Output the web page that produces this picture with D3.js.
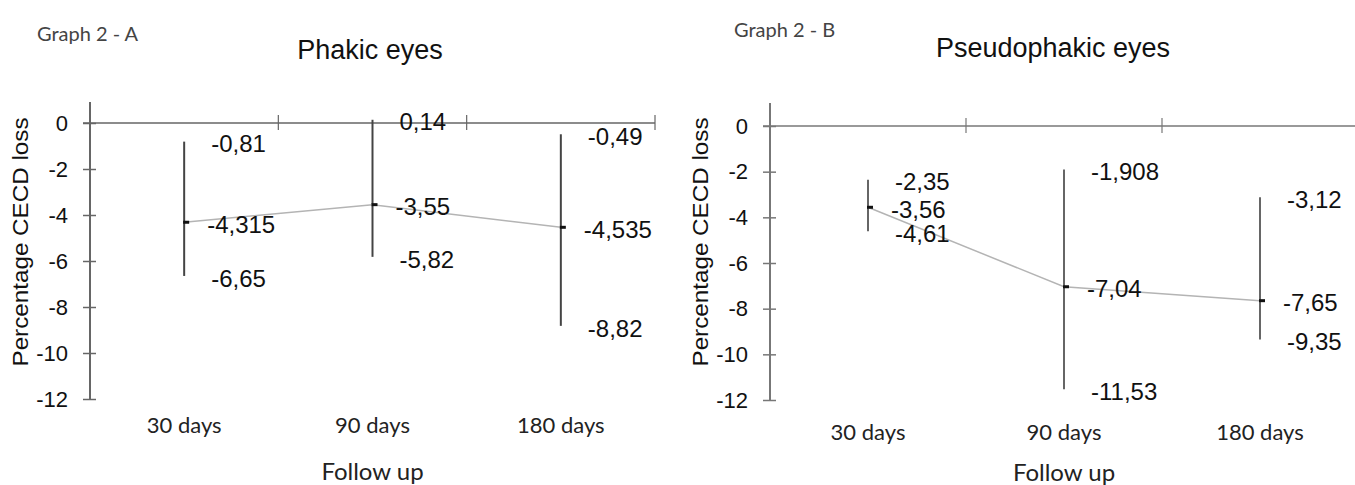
<!DOCTYPE html>
<html>
<head>
    <meta charset="utf-8" />
    <title>Graph 2 - CECD loss</title>
    <style>
        body { margin: 0; background: #fff; }
        svg { display: block; }
        .tick text { font-family: "Liberation Sans", Arial, sans-serif; font-size: 22px; fill: #111; }
        .val { font-family: "Liberation Sans", Arial, sans-serif; font-size: 24px; fill: #111; }
        .title { font-family: "Liberation Sans", Arial, sans-serif; font-size: 27px; fill: #111; }
        .ytitle { font-family: "Liberation Sans", Arial, sans-serif; font-size: 22px; fill: #111; }
        .cat, .xtitle, .graph { font-family: Lato, "Open Sans", sans-serif; fill: #222; }
        .cat { font-size: 22px; }
        .xtitle { font-size: 24px; }
        .graph { font-size: 20px; fill: #444; }
    </style>
    <script src="https://d3js.org/d3.v7.min.js"></script>
</head>
<body>
<script>

// data
const days = ["30 days", "90 days", "180 days"];

const phakicMean  = [-4.315, -3.55, -4.535];
const phakicUpper = [-0.81, 0.14, -0.49];
const phakicLower = [-6.65, -5.82, -8.82];

const pseudoMean  = [-3.56, -7.04, -7.65];
const pseudoUpper = [-2.35, -1.908, -3.12];
const pseudoLower = [-4.61, -11.53, -9.35];

const yTicks = [0, -2, -4, -6, -8, -10, -12];

const W = 1355, H = 485;

let svg = d3.select("body").append("svg")
    .attr("width", W)
    .attr("height", H);

// comma decimal, plain hyphen, as in the original
let fmt = v => String(v).replace(".", ",");

function drawPanel(p) {
    let x = d3.scaleBand()
        .domain(days)
        .range([p.left, p.right])
        .paddingInner(0).paddingOuter(0);

    let y = d3.scaleLinear()
        .domain([-12, 0])
        .range([p.bottom, p.zeroY]);

    let g = svg.append("g");

    // header texts
    g.append("text").attr("class", "graph")
        .attr("x", p.graphX).attr("y", p.graphY)
        .text(p.graphLabel);
    g.append("text").attr("class", "title")
        .attr("x", p.titleX).attr("y", p.titleY)
        .attr("text-anchor", "middle")
        .text(p.title);

    // y axis
    let yAxis = d3.axisLeft(y)
        .tickValues(yTicks)
        .tickFormat(d => String(d))
        .tickSize(6).tickPadding(16);
    let ya = g.append("g")
        .attr("transform", "translate(" + p.left + ",0)")
        .call(yAxis);
    ya.select(".domain").remove();
    ya.selectAll(".tick line").attr("x1", -7).attr("x2", 6)
        .attr("stroke", p.axisColor).attr("stroke-width", 1.5);
    ya.append("line")
        .attr("x1", 0).attr("x2", 0)
        .attr("y1", p.axisTop).attr("y2", p.bottom)
        .attr("stroke", p.axisColor).attr("stroke-width", 2);

    // x axis line at zero, ticks between categories
    let xa = g.append("g");
    xa.append("line")
        .attr("x1", p.left - 7).attr("x2", p.lineEnd)
        .attr("y1", y(0)).attr("y2", y(0))
        .attr("stroke", p.axisColor).attr("stroke-width", 1.5);
    xa.selectAll("line.xt")
        .data(days.slice(1).concat(p.endTick ? ["end"] : []))
        .enter().append("line")
        .attr("class", "xt")
        .attr("x1", d => d === "end" ? p.right : x(d))
        .attr("x2", d => d === "end" ? p.right : x(d))
        .attr("y1", y(0) - 8).attr("y2", y(0) + 7)
        .attr("stroke", p.axisColor).attr("stroke-width", 1.2);

    let cx = d => x(d) + x.bandwidth() / 2;

    // error bars
    g.selectAll("line.err")
        .data(days)
        .enter().append("line")
        .attr("class", "err")
        .attr("x1", d => cx(d)).attr("x2", d => cx(d))
        .attr("y1", (d, i) => y(p.upper[i]))
        .attr("y2", (d, i) => y(p.lower[i]))
        .attr("stroke", p.barColor).attr("stroke-width", 2);

    // mean line
    let line = d3.line()
        .x((d, i) => cx(days[i]))
        .y(d => y(d));
    g.append("path")
        .datum(p.mean)
        .attr("d", line)
        .attr("fill", "none")
        .attr("stroke", "#b4b4b4")
        .attr("stroke-width", 1.5);

    // mean markers
    g.selectAll("rect.mk")
        .data(p.mean)
        .enter().append("rect")
        .attr("class", "mk")
        .attr("x", (d, i) => cx(days[i]) - 1)
        .attr("y", d => y(d) - 1.5)
        .attr("width", 6).attr("height", 3)
        .attr("fill", "#111");

    // value labels
    let labels = [];
    days.forEach((d, i) => {
        labels.push({ d: d, v: p.upper[i], dx: 27 });
        labels.push({ d: d, v: p.mean[i], dx: 23 });
        labels.push({ d: d, v: p.lower[i], dx: 27 });
    });
    g.selectAll("text.val")
        .data(labels)
        .enter().append("text")
        .attr("class", "val")
        .attr("x", l => cx(l.d) + l.dx)
        .attr("y", l => y(l.v) + 2)
        .attr("dy", "0.36em")
        .text(l => fmt(l.v));

    // category labels at the bottom
    g.selectAll("text.cat")
        .data(days)
        .enter().append("text")
        .attr("class", "cat")
        .attr("x", d => cx(d))
        .attr("y", p.catY)
        .attr("text-anchor", "middle")
        .text(d => d);

    g.append("text").attr("class", "xtitle")
        .attr("x", cx(days[1]))
        .attr("y", p.xTitleY)
        .attr("text-anchor", "middle")
        .text("Follow up");

    g.append("text").attr("class", "ytitle")
        .attr("transform", "translate(" + p.yTitleX + "," + p.yTitleY + ") rotate(-90)")
        .attr("text-anchor", "middle")
        .attr("dy", "0.36em")
        .attr("textLength", 249)
        .attr("lengthAdjust", "spacingAndGlyphs")
        .text("Percentage CECD loss");
}

drawPanel({
    graphLabel: "Graph 2 - A", graphX: 37, graphY: 41,
    title: "Phakic eyes", titleX: 370, titleY: 59,
    left: 90, right: 655, lineEnd: 655, endTick: true,
    zeroY: 123, bottom: 399, axisTop: 102,
    axisColor: "#666", barColor: "#444",
    mean: phakicMean, upper: phakicUpper, lower: phakicLower,
    catY: 433, xTitleY: 480, yTitleX: 20, yTitleY: 242
});

drawPanel({
    graphLabel: "Graph 2 - B", graphX: 734, graphY: 37,
    title: "Pseudophakic eyes", titleX: 1053, titleY: 57,
    left: 770, right: 1358, lineEnd: 1355, endTick: false,
    zeroY: 126, bottom: 400, axisTop: 103,
    axisColor: "#777", barColor: "#666",
    mean: pseudoMean, upper: pseudoUpper, lower: pseudoLower,
    catY: 440, xTitleY: 481, yTitleX: 700, yTitleY: 242
});

</script>
</body>
</html>
